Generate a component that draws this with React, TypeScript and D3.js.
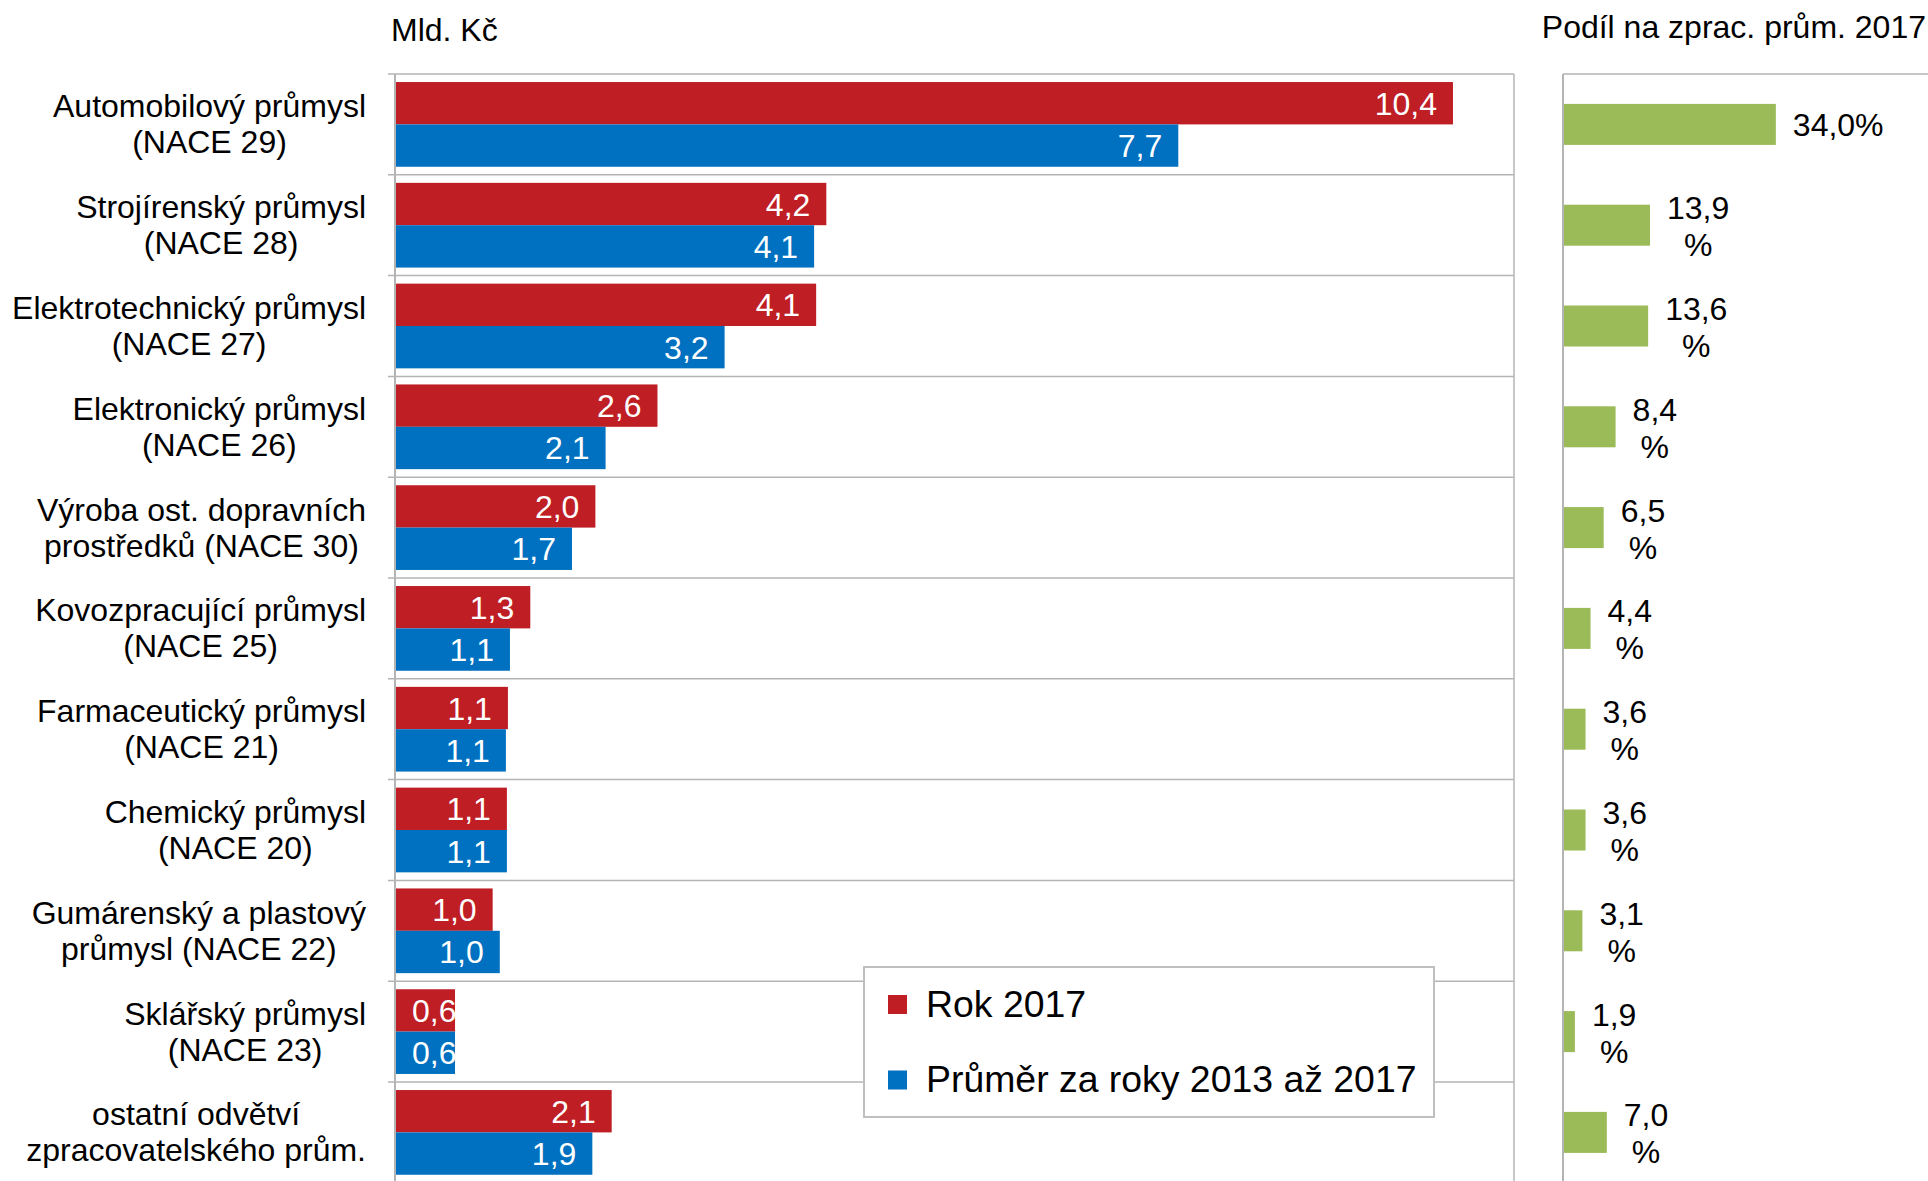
import React, { useEffect, useRef } from "react";
import * as d3 from "d3";

const categoryLines: string[][] = [
  ["Automobilový průmysl", "(NACE 29)"],
  ["Strojírenský průmysl", "(NACE 28)"],
  ["Elektrotechnický průmysl", "(NACE 27)"],
  ["Elektronický průmysl", "(NACE 26)"],
  ["Výroba ost. dopravních", "prostředků (NACE 30)"],
  ["Kovozpracující průmysl", "(NACE 25)"],
  ["Farmaceutický průmysl", "(NACE 21)"],
  ["Chemický průmysl", "(NACE 20)"],
  ["Gumárenský a plastový", "průmysl (NACE 22)"],
  ["Sklářský průmysl", "(NACE 23)"],
  ["ostatní odvětví", "zpracovatelského prům."],
];
const rok2017 = [10.4, 4.24, 4.14, 2.58, 1.97, 1.33, 1.11, 1.1, 0.96, 0.59, 2.13];
const prumer = [7.7, 4.12, 3.24, 2.07, 1.74, 1.13, 1.09, 1.1, 1.03, 0.59, 1.94];
const podil = [34.0, 13.9, 13.6, 8.4, 6.5, 4.4, 3.6, 3.6, 3.1, 1.9, 7.0];
const seriesNames = ["Rok 2017", "Průměr za roky 2013 až 2017"];
const leftTitle = "Mld. Kč";
const rightTitle = "Podíl na zprac. prům. 2017";

const RED = "#BE1E24";
const BLUE = "#0070C0";
const GREEN = "#9BBB59";
const GRID = "#B4B4B4";
const FONT = "'Liberation Sans', Arial, sans-serif";
const FS = 32;

export default function App() {
  const ref = useRef<SVGSVGElement | null>(null);

  useEffect(() => {
    const svg = d3.select(ref.current);
    svg.selectAll("*").remove();

    const top = 74;
    const band = 100.8;
    const n = categoryLines.length;
    const idx = d3.range(n).map(String);

    const y = d3.scaleBand<string>().domain(idx).range([top, top + n * band]);
    const inner = d3
      .scaleBand<string>()
      .domain(["r", "b"])
      .range([0, y.bandwidth()])
      .paddingInner(0)
      .paddingOuter(0.19);
    const x = d3.scaleLinear().domain([0, 11]).range([395, 1514]);
    const x2 = d3.scaleLinear().domain([0, 50]).range([1563, 1876]);

    const fmt = (v: number) => d3.format(".1f")(v).replace(".", ",");

    const g = svg.append("g");

    // left panel grid / border
    const boundaries = d3.range(n + 1).map((i) => top + i * band);
    g.selectAll("line.grid")
      .data(boundaries)
      .enter()
      .append("line")
      .attr("x1", x(0) - 7)
      .attr("x2", x(11))
      .attr("y1", (d) => d)
      .attr("y2", (d) => d)
      .attr("stroke", GRID)
      .attr("stroke-width", 1.5);
    g.append("line")
      .attr("x1", x(11))
      .attr("x2", x(11))
      .attr("y1", top)
      .attr("y2", 1181)
      .attr("stroke", GRID)
      .attr("stroke-width", 1.5);

    const series: [string, string, number[]][] = [
      ["r", RED, rok2017],
      ["b", BLUE, prumer],
    ];
    series.forEach(([key, color, vals]) => {
      g.selectAll(`rect.bar-${key}`)
        .data(vals)
        .enter()
        .append("rect")
        .attr("x", x(0))
        .attr("y", (_d, i) => (y(String(i)) as number) + (inner(key) as number))
        .attr("width", (d) => x(d) - x(0))
        .attr("height", inner.bandwidth())
        .attr("fill", color);
    });

    // left axis line
    g.append("line")
      .attr("x1", x(0))
      .attr("x2", x(0))
      .attr("y1", top)
      .attr("y2", 1181)
      .attr("stroke", GRID)
      .attr("stroke-width", 2);

    // value labels
    series.forEach(([key, , vals]) => {
      vals.forEach((v, i) => {
        const cy = (y(String(i)) as number) + (inner(key) as number) + inner.bandwidth() / 2;
        const t = g
          .append("text")
          .attr("y", cy + 11.5)
          .attr("fill", "#fff")
          .attr("font-size", FS)
          .attr("font-family", FONT)
          .text(fmt(v));
        const w = (t.node() as SVGTextElement).getComputedTextLength();
        const start = Math.max(x(0) + 17, x(v) - 16 - w);
        t.attr("x", start);
      });
    });

    // category labels
    categoryLines.forEach((lines, i) => {
      const cy = (y(String(i)) as number) + y.bandwidth() / 2;
      const texts = lines.map((ln, k) =>
        g
          .append("text")
          .attr("y", cy - 7 + k * 36)
          .attr("font-size", FS)
          .attr("font-family", FONT)
          .attr("fill", "#000")
          .attr("text-anchor", "middle")
          .text(ln)
      );
      const maxW = d3.max(texts, (t) => (t.node() as SVGTextElement).getComputedTextLength()) as number;
      texts.forEach((t) => t.attr("x", 366 - maxW / 2));
    });

    // titles
    g.append("text")
      .attr("x", 391)
      .attr("y", 41)
      .attr("font-size", FS)
      .attr("font-family", FONT)
      .text(leftTitle);
    g.append("text")
      .attr("x", 1926)
      .attr("y", 38)
      .attr("text-anchor", "end")
      .attr("font-size", FS)
      .attr("font-family", FONT)
      .text(rightTitle);

    // right panel
    g.append("line")
      .attr("x1", x2(0))
      .attr("x2", 1928)
      .attr("y1", top)
      .attr("y2", top)
      .attr("stroke", GRID)
      .attr("stroke-width", 1.5);
    const gh = 41;
    g.selectAll("rect.green")
      .data(podil)
      .enter()
      .append("rect")
      .attr("x", x2(0))
      .attr("y", (_d, i) => (y(String(i)) as number) + y.bandwidth() / 2 - gh / 2)
      .attr("width", (d) => x2(d) - x2(0))
      .attr("height", gh)
      .attr("fill", GREEN);
    g.append("line")
      .attr("x1", x2(0))
      .attr("x2", x2(0))
      .attr("y1", top)
      .attr("y2", 1181)
      .attr("stroke", GRID)
      .attr("stroke-width", 2);

    podil.forEach((v, i) => {
      const cy = (y(String(i)) as number) + y.bandwidth() / 2;
      const sx = x2(v) + 17;
      const s = fmt(v);
      if (v > 20) {
        g.append("text")
          .attr("x", sx)
          .attr("y", cy + 11.5)
          .attr("font-size", FS)
          .attr("font-family", FONT)
          .text(s + "%");
      } else {
        const t1 = g
          .append("text")
          .attr("y", cy - 6)
          .attr("font-size", FS)
          .attr("font-family", FONT)
          .attr("text-anchor", "middle")
          .text(s);
        const w = (t1.node() as SVGTextElement).getComputedTextLength();
        t1.attr("x", sx + w / 2);
        g.append("text")
          .attr("x", sx + w / 2)
          .attr("y", cy + 31)
          .attr("font-size", FS)
          .attr("font-family", FONT)
          .attr("text-anchor", "middle")
          .text("%");
      }
    });

    // legend
    const lg = g.append("g");
    lg.append("rect")
      .attr("x", 864)
      .attr("y", 967)
      .attr("width", 570)
      .attr("height", 150)
      .attr("fill", "#fff")
      .attr("stroke", "#BFBFBF")
      .attr("stroke-width", 2);
    [RED, BLUE].forEach((c, k) => {
      lg.append("rect")
        .attr("x", 888)
        .attr("y", 995 + k * 75.5)
        .attr("width", 19)
        .attr("height", 19)
        .attr("fill", c);
      lg.append("text")
        .attr("x", 926)
        .attr("y", 1017 + k * 75)
        .attr("font-size", 37.4)
        .attr("font-family", FONT)
        .text(seriesNames[k]);
    });
  }, []);

  return (
    <svg
      ref={ref}
      width={1928}
      height={1181}
      style={{ position: "absolute", left: 0, top: 0, background: "#fff" }}
    />
  );
}
